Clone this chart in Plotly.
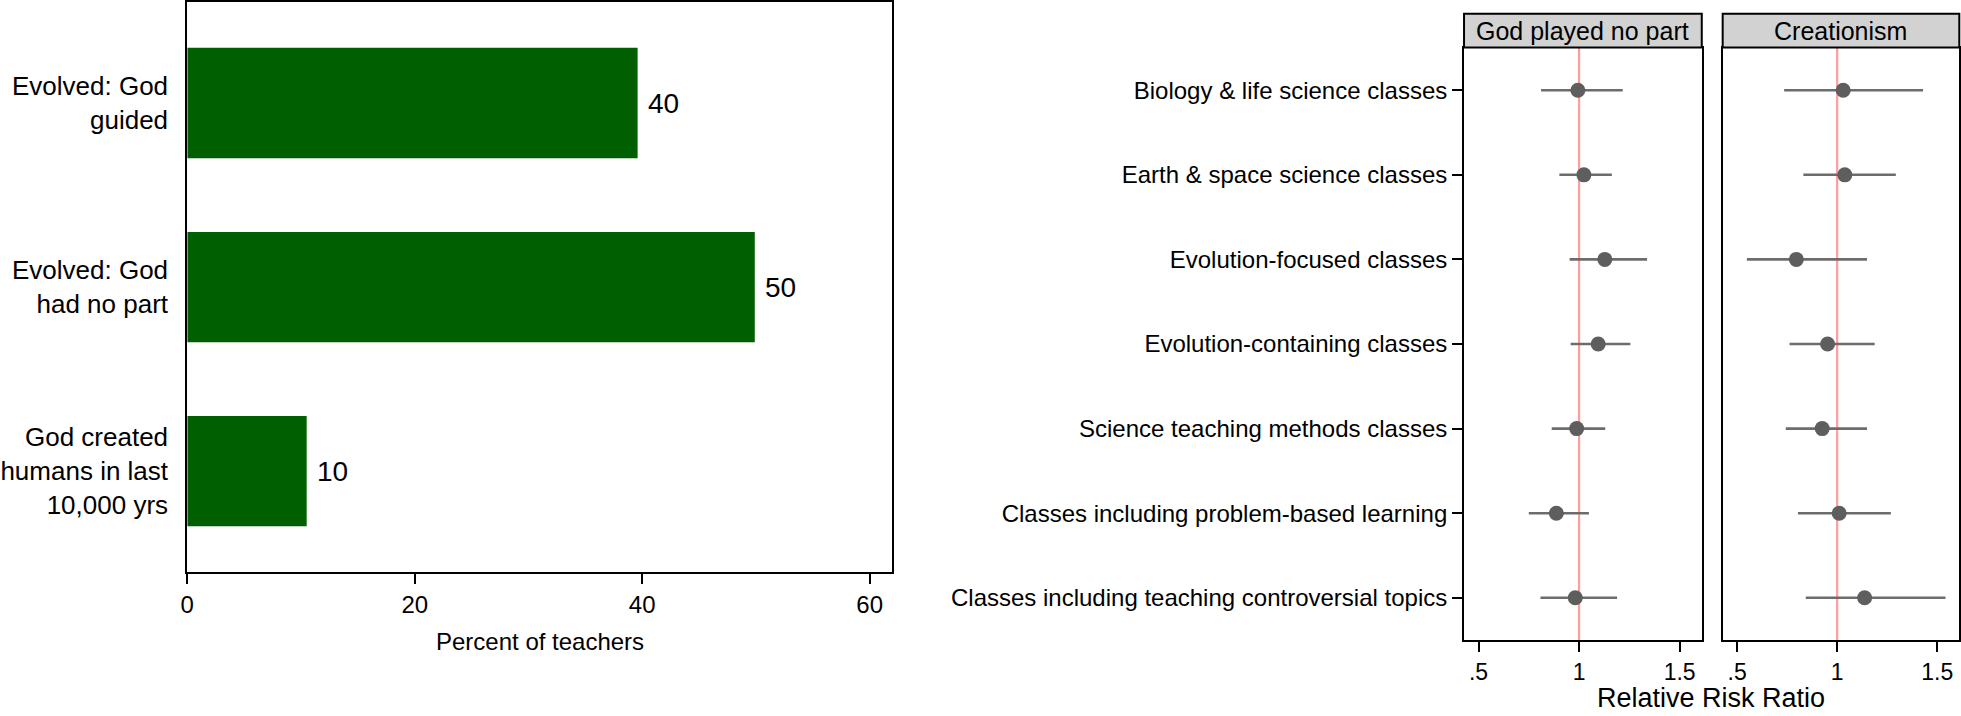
import plotly.graph_objects as go

# ---------------- data ----------------
beliefs = ["Evolved: God<br>guided", "Evolved: God<br>had no part",
           "God created<br>humans in last<br>10,000 yrs"]
percent = [39.6, 49.9, 10.5]
bar_labels = ["40", "50", "10"]
pct_ticks = [0, 20, 40, 60]

classes = ["Biology & life science classes",
           "Earth & space science classes",
           "Evolution-focused classes",
           "Evolution-containing classes",
           "Science teaching methods classes",
           "Classes including problem-based learning",
           "Classes including teaching controversial topics"]
panels = ["God played no part", "Creationism"]
nopart_rrr = [0.994, 1.024, 1.128, 1.095, 0.988, 0.887, 0.981]
nopart_lo = [0.811, 0.902, 0.953, 0.958, 0.864, 0.750, 0.808]
nopart_hi = [1.217, 1.163, 1.338, 1.255, 1.130, 1.049, 1.189]
creat_rrr = [1.030, 1.038, 0.796, 0.952, 0.925, 1.010, 1.137]
creat_lo = [0.735, 0.831, 0.549, 0.762, 0.743, 0.804, 0.843]
creat_hi = [1.429, 1.293, 1.149, 1.187, 1.149, 1.268, 1.541]
rrr_ticks = [0.5, 1, 1.5]
rrr_ticktext = [".5", "1", "1.5"]
null_value = 1

FONT = "Liberation Sans, Arial, sans-serif"
W, H = 1961, 716

fig = go.Figure()

# ---------------- left: bar chart ----------------
fig.add_trace(go.Bar(
    x=percent, y=beliefs, orientation="h", width=0.6,
    marker=dict(color="#005f00", line=dict(width=0)),
    xaxis="x", yaxis="y", showlegend=False, hoverinfo="x+y"))

annotations = []
for v, c, t in zip(percent, beliefs, bar_labels):
    annotations.append(dict(x=v, y=c, xref="x", yref="y", text=t,
                            showarrow=False, xanchor="left", yanchor="middle",
                            xshift=8, font=dict(size=28, color="black", family=FONT)))

# ---------------- right: coefficient plots ----------------
series = [(nopart_rrr, nopart_lo, nopart_hi, "x2", "y2"),
          (creat_rrr, creat_lo, creat_hi, "x3", "y3")]
for rrr, lo, hi, xa, ya in series:
    fig.add_trace(go.Scatter(
        x=rrr, y=classes, mode="markers", xaxis=xa, yaxis=ya,
        marker=dict(size=15, color="#5e5e5e"),
        error_x=dict(type="data", symmetric=False,
                     array=[h - r for h, r in zip(hi, rrr)],
                     arrayminus=[r - l for r, l in zip(rrr, lo)],
                     width=0, thickness=2.6, color="#6c6c6c"),
        showlegend=False, cliponaxis=False))

shapes = []
for xa, ya in [("x2", "y2"), ("x3", "y3")]:
    shapes.append(dict(type="line", xref=xa, yref=ya + " domain",
                       x0=null_value, x1=null_value, y0=0, y1=1,
                       line=dict(color="#ff9c9c", width=2.2), layer="below"))

hdr_bot = 1 - 46.5 / H
hdr_top = 1 - 12.7 / H
for xa, name in zip(["x2", "x3"], panels):
    shapes.append(dict(type="rect", xref=xa + " domain", yref="paper",
                       x0=0, x1=1, y0=hdr_bot, y1=hdr_top,
                       fillcolor="#d2d2d2", line=dict(color="black", width=2)))
    annotations.append(dict(x=0.5, y=(hdr_bot + hdr_top) / 2, xref=xa + " domain",
                            yref="paper", text=name, showarrow=False,
                            xanchor="center", yanchor="middle",
                            font=dict(size=25, color="black", family=FONT)))

annotations.append(dict(x=(180 + 888) / 2 / W, y=1 - 641 / H, xref="paper", yref="paper",
                        text="Percent of teachers", showarrow=False,
                        xanchor="center", yanchor="middle",
                        font=dict(size=24, color="black", family=FONT)))
annotations.append(dict(x=1710 / W, y=1 - 698 / H, xref="paper", yref="paper",
                        text="Relative Risk Ratio", showarrow=False,
                        xanchor="center", yanchor="middle",
                        font=dict(size=27, color="black", family=FONT)))

axis_common = dict(showline=True, mirror=True, linecolor="black", linewidth=2,
                   showgrid=False, zeroline=False)

fig.update_layout(
    width=W, height=H, margin=dict(l=0, r=0, t=0, b=0),
    paper_bgcolor="white", plot_bgcolor="white",
    font=dict(family=FONT, color="black"),
    xaxis=dict(domain=[180 / W, 888 / W], range=[0, 62], anchor="y",
               tickvals=pct_ticks, ticks="outside", ticklen=10, tickwidth=2,
               tickcolor="black", tickfont=dict(size=24), **axis_common),
    yaxis=dict(domain=[1 - 572 / H, 1 - 1 / H], type="category",
               categoryorder="array", categoryarray=beliefs,
               range=[2.549, -0.549], anchor="x", ticks="",
               ticklabelstandoff=12, tickfont=dict(size=26), **axis_common),
    xaxis2=dict(domain=[1462 / W, 1700.7 / W], range=[0.428, 1.61], anchor="y2",
                tickvals=rrr_ticks, ticktext=rrr_ticktext, ticks="outside",
                ticklen=10, tickwidth=2, tickcolor="black",
                tickfont=dict(size=23), **axis_common),
    yaxis2=dict(domain=[1 - 640 / H, 1 - 47 / H], type="category",
                categoryorder="array", categoryarray=classes,
                range=[6.5, -0.5], anchor="x2", ticks="outside", ticklen=10,
                tickwidth=2, tickcolor="black", tickfont=dict(size=24),
                **axis_common),
    xaxis3=dict(domain=[1721.7 / W, 1959.3 / W], range=[0.428, 1.61], anchor="y3",
                tickvals=rrr_ticks, ticktext=rrr_ticktext, ticks="outside",
                ticklen=10, tickwidth=2, tickcolor="black",
                tickfont=dict(size=23), **axis_common),
    yaxis3=dict(domain=[1 - 640 / H, 1 - 47 / H], type="category",
                categoryorder="array", categoryarray=classes,
                range=[6.5, -0.5], anchor="x3", ticks="", showticklabels=False,
                **axis_common),
    shapes=shapes, annotations=annotations,
)

fig.write_html("out.html",
               config={"displayModeBar": False},
               post_script="document.body.style.margin='0';"
                           "document.body.style.overflow='hidden';")
